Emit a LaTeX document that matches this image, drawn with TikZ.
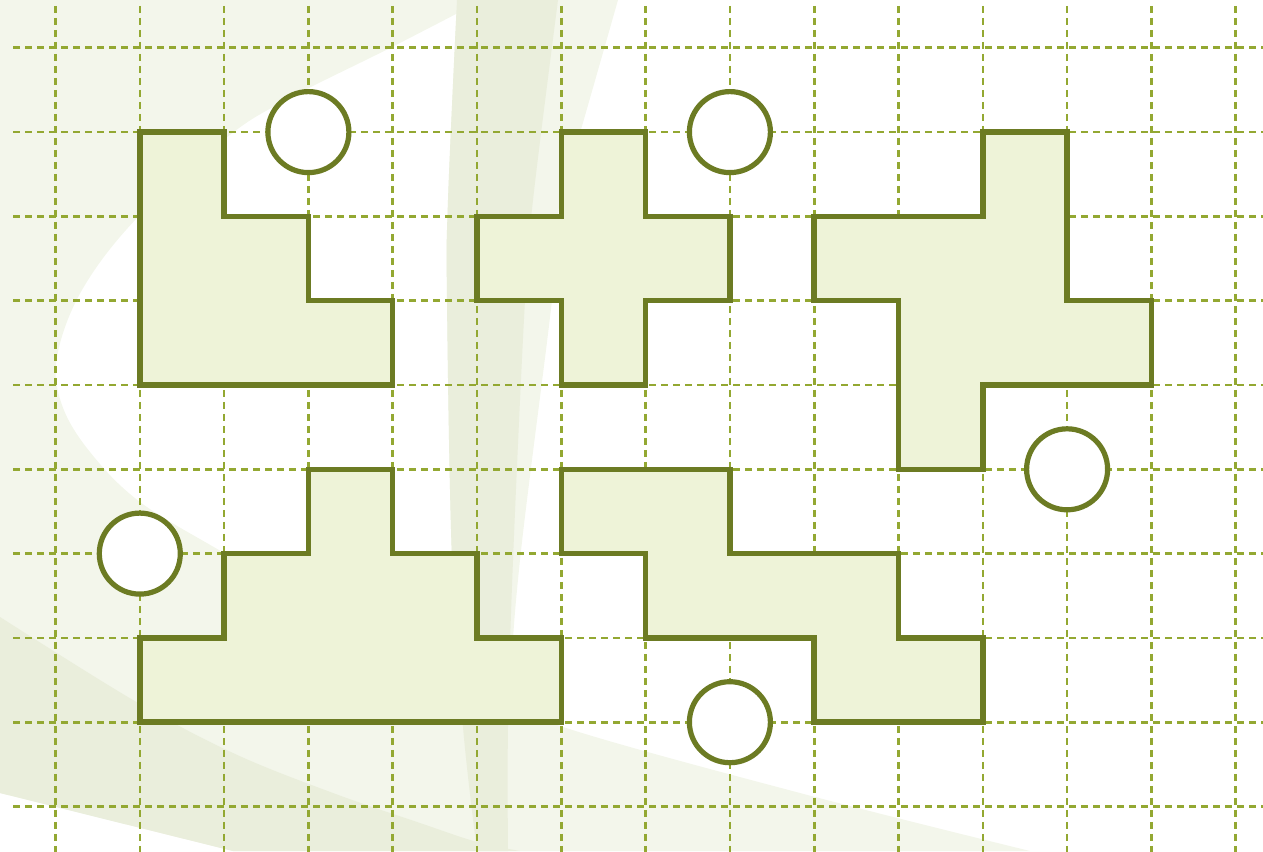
\documentclass[tikz,border=0pt]{standalone}
\definecolor{bgA}{HTML}{F3F6EB}
\definecolor{bgC}{HTML}{EAEEDC}
\definecolor{shapefill}{HTML}{EEF3D8}
\definecolor{shapeline}{HTML}{6C7B23}
\definecolor{gridcol}{HTML}{93A832}
\tikzset{
  gridline/.style={gridcol, line width=2.6pt, dash pattern=on 6.8pt off 5.2pt},
  tile/.style={draw=shapeline, fill=shapefill, line width=5.5pt, line join=miter},
  ring/.style={circle, draw=shapeline, fill=white, line width=5.2pt, minimum size=81pt, inner sep=0pt},
}
\begin{document}
\begin{tikzpicture}[x=1pt,y=-1pt]
\useasboundingbox (0,0) rectangle (1263,851);
% background swooshes
\fill[bgA] (0,0) -- plot[smooth, tension=0.6] coordinates {(483,0) (392,47) (286,100) (226,138) (137,218) (82,290) (57,357) (62,405) (90,452) (140,502) (224,553) (330,615) (450,680) (563,727) (800,793) (1030,851)} -- (233,851) -- (0,793) -- cycle;
\fill[bgC] (0,617) -- plot[smooth, tension=0.6] coordinates {(0,617) (133,700) (233,753) (333,793) (420,823) (477,842) (520,851)} -- (233,851) -- (0,793) -- cycle;
\fill[bgA] plot[smooth, tension=0.6] coordinates {(457,0) (448,200) (447,300) (452,560) (463,727) (477,851)} -- plot[smooth, tension=0.6] coordinates {(508,851) (510,700) (520,560) (552,300) (560,200) (580,133) (618,0)} -- cycle;
\fill[bgC] plot[smooth, tension=0.6] coordinates {(457,0) (448,200) (447,300) (452,560) (463,727) (477,851)} -- plot[smooth, tension=0.6] coordinates {(508,851) (508,727) (513,560) (525,300) (533,200) (558,0)} -- cycle;
\begin{scope}[shift={(55.5,47.8)}, x=84.3pt, y=-84.3pt]
  % grid
  \foreach \i in {0,...,14} \draw[gridline] (\i,-0.496) -- (\i,9.6);
  \foreach \j in {0,...,9} \draw[gridline] (-0.504,\j) -- (14.4,\j);
  % tiles
  \draw[tile] (1,1) -- (2,1) -- (2,2) -- (3,2) -- (3,3) -- (4,3) -- (4,4) -- (1,4) -- cycle;
  \draw[tile] (6,1) -- (7,1) -- (7,2) -- (8,2) -- (8,3) -- (7,3) -- (7,4) -- (6,4) -- (6,3) -- (5,3) -- (5,2) -- (6,2) -- cycle;
  \draw[tile] (11,1) -- (12,1) -- (12,3) -- (13,3) -- (13,4) -- (11,4) -- (11,5) -- (10,5) -- (10,3) -- (9,3) -- (9,2) -- (11,2) -- cycle;
  \draw[tile] (3,5) -- (4,5) -- (4,6) -- (5,6) -- (5,7) -- (6,7) -- (6,8) -- (1,8) -- (1,7) -- (2,7) -- (2,6) -- (3,6) -- cycle;
  \draw[tile] (6,5) -- (8,5) -- (8,6) -- (10,6) -- (10,7) -- (11,7) -- (11,8) -- (9,8) -- (9,7) -- (7,7) -- (7,6) -- (6,6) -- cycle;
  % circles
  \node[ring] (c1) at (3,1) {};
  \node[ring] (c2) at (8,1) {};
  \node[ring] (c3) at (12,5) {};
  \node[ring] (c4) at (1,6) {};
  \node[ring] (c5) at (8,8) {};
\end{scope}
\end{tikzpicture}
\end{document}
